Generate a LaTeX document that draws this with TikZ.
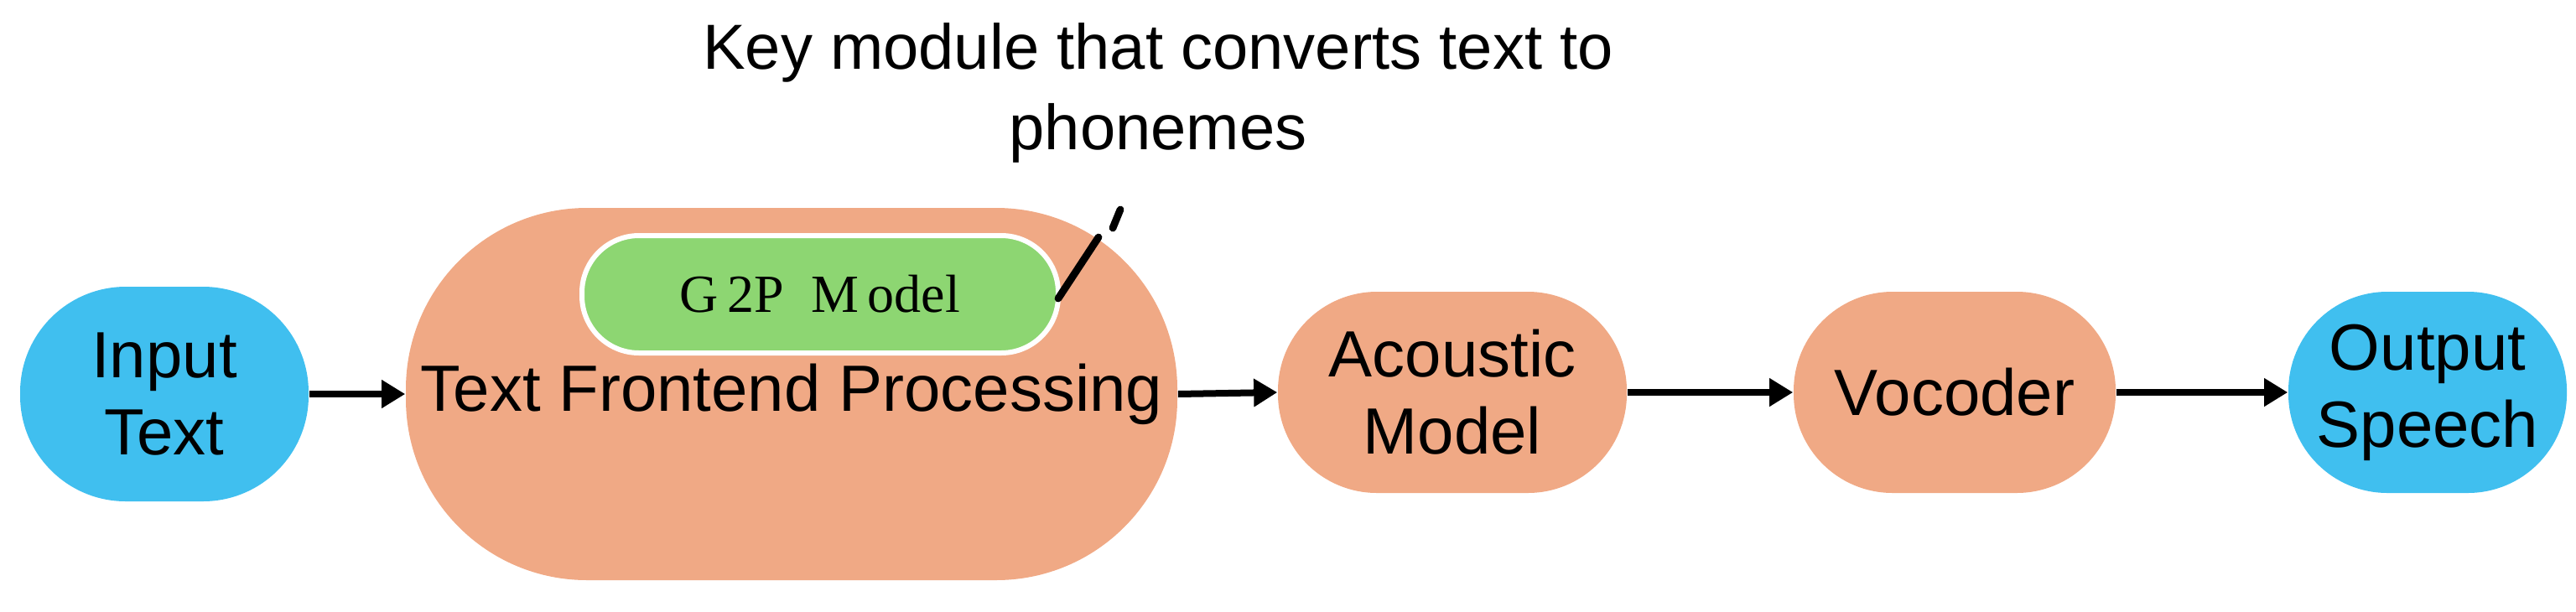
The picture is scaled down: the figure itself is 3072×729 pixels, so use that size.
\documentclass[tikz,border=0pt]{standalone}
\usepackage{fontspec}
\setmainfont{Liberation Sans}
\newfontfamily\gfont{Liberation Serif}
\usetikzlibrary{arrows.meta}
\definecolor{cblue}{HTML}{40BFEF}
\definecolor{corange}{HTML}{F0A985}
\definecolor{cgreen}{HTML}{8DD672}
\tikzset{
  x=0.25pt,y=-0.25pt,
  blob/.style={rounded corners=#1, inner sep=0pt, align=center, font=\fontsize{19.5}{23}\selectfont},
  arr/.style={line width=2pt,-{Triangle[length=7pt,width=8pt]}},
}
\begin{document}
\begin{tikzpicture}
\useasboundingbox (0,0) rectangle (3072,729);
\node[blob=31.5pt, fill=cblue, minimum width=86pt, minimum height=64pt] (in) at (196,470) {Input\\Text};
\node[blob=54pt, fill=corange, minimum width=230pt, minimum height=111pt] (fe) at (944,470) {Text Frontend Processing};
\node[blob=17pt, fill=cgreen, draw=white, line width=1.5pt, minimum width=142pt, minimum height=35pt, font=\gfont\fontsize{16}{18}\selectfont] (g2p) at (978,351) {G\,2P\ \ M\,odel};
\node[blob=29.5pt, fill=corange, minimum width=104pt, minimum height=60pt] (am) at (1732,468) {Acoustic\\Model};
\node[blob=29.5pt, fill=corange, minimum width=96pt, minimum height=60pt] (vo) at (2331,468) {Vocoder};
\node[blob=29.5pt, fill=cblue, minimum width=83pt, minimum height=60pt] (out) at (2895,468) {Output\\Speech};
\node[font=\fontsize{19}{24}\selectfont, align=center] (note) at (1381,111) {Key module that converts text to\\phonemes};
\coordinate (c1) at (1262,356);
\coordinate (c2) at (1310,283);
\coordinate (c3) at (1327,272);
\coordinate (c4) at (1336,250);
\draw[line width=2.2pt, line cap=round] (c1) -- (c2);
\draw[line width=2.2pt, line cap=round] (c3) -- (c4);
\draw[arr] (in.east) -- (fe.west);
\draw[arr] (fe.east) -- (am.west);
\draw[arr] (am.east) -- (vo.west);
\draw[arr] (vo.east) -- (out.west);
\end{tikzpicture}
\end{document}
